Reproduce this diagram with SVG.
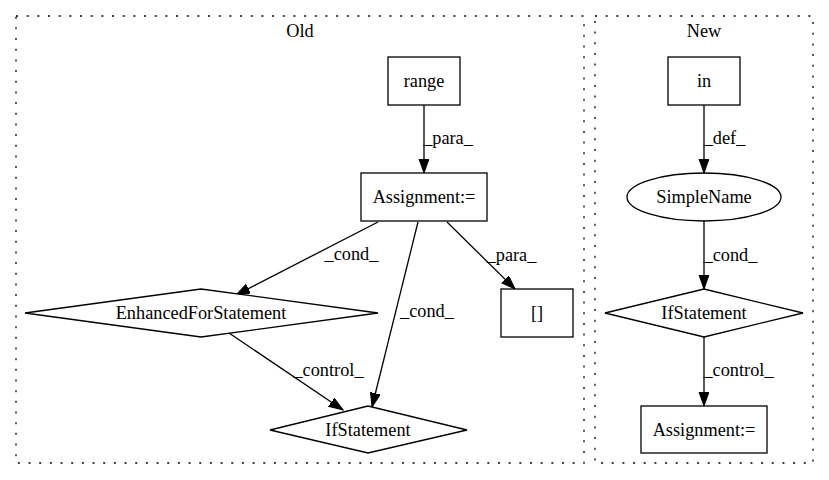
<svg xmlns="http://www.w3.org/2000/svg" width="829" height="480" viewBox="0 0 829 480">
<style>
.cl{fill:none;stroke:#000;stroke-width:1.3;stroke-dasharray:2,8.67}
.n{fill:#fff;stroke:#000;stroke-width:1.3}
.e{fill:none;stroke:#000;stroke-width:1.3;marker-end:url(#ah)}
</style>
<defs>
<marker id="ah" markerUnits="userSpaceOnUse" markerWidth="16" markerHeight="12" refX="14" refY="5" orient="auto">
<path d="M0,0 L14,5 L0,10 z" fill="#000" stroke="#000" stroke-width="1"/>
</marker>
</defs>
<rect x="0" y="0" width="829" height="480" fill="#fff"/>
<g font-family="Liberation Serif, Times New Roman, DejaVu Serif, serif" font-size="18.3" text-anchor="middle" fill="#000">
<g id="cluster_old">
<rect class="cl" x="16" y="16" width="568" height="447"/>
<text x="300" y="37">Old</text>
</g>
<g id="cluster_new">
<rect class="cl" x="595" y="16" width="218" height="447"/>
<text x="704" y="37">New</text>
</g>
<g id="edges">
<line class="e" x1="424" y1="105" x2="424" y2="173"/>
<text x="448" y="144">_para_</text>
<line class="e" x1="378" y1="222" x2="236" y2="295"/>
<text x="351.5" y="260">_cond_</text>
<line class="e" x1="418" y1="222" x2="372" y2="407"/>
<text x="427" y="317">_cond_</text>
<line class="e" x1="229" y1="333" x2="343" y2="410"/>
<text x="328.5" y="376">_control_</text>
<line class="e" x1="447" y1="222" x2="515" y2="289"/>
<text x="511.5" y="261">_para_</text>
<line class="e" x1="704" y1="105" x2="704" y2="173"/>
<text x="724.5" y="144">_def_</text>
<line class="e" x1="704" y1="221" x2="704" y2="289"/>
<text x="730.5" y="261">_cond_</text>
<line class="e" x1="704" y1="337" x2="704" y2="406"/>
<text x="738.5" y="376">_control_</text>
</g>
<g id="range">
<rect class="n" x="388" y="57" width="72" height="48"/>
<text x="424" y="87">range</text>
</g>
<g id="assignment_old">
<rect class="n" x="361" y="173" width="126" height="48"/>
<text x="424" y="203">Assignment:=</text>
</g>
<g id="enhancedfor">
<polygon class="n" points="25,313 201,289 378,313 201,337"/>
<text x="201" y="319">EnhancedForStatement</text>
</g>
<g id="ifstatement_old">
<polygon class="n" points="270,430 368,406 467,430 368,453"/>
<text x="368" y="436">IfStatement</text>
</g>
<g id="brackets">
<rect class="n" x="501" y="289" width="72" height="48"/>
<text x="537" y="319">[]</text>
</g>
<g id="in">
<rect class="n" x="668" y="57" width="72" height="48"/>
<text x="704" y="87">in</text>
</g>
<g id="simplename">
<ellipse class="n" cx="704" cy="197" rx="77" ry="24"/>
<text x="704" y="203">SimpleName</text>
</g>
<g id="ifstatement_new">
<polygon class="n" points="605,313 704,289 803,313 704,337"/>
<text x="704" y="319">IfStatement</text>
</g>
<g id="assignment_new">
<rect class="n" x="641" y="406" width="126" height="47"/>
<text x="704" y="436">Assignment:=</text>
</g>
</g>
</svg>
